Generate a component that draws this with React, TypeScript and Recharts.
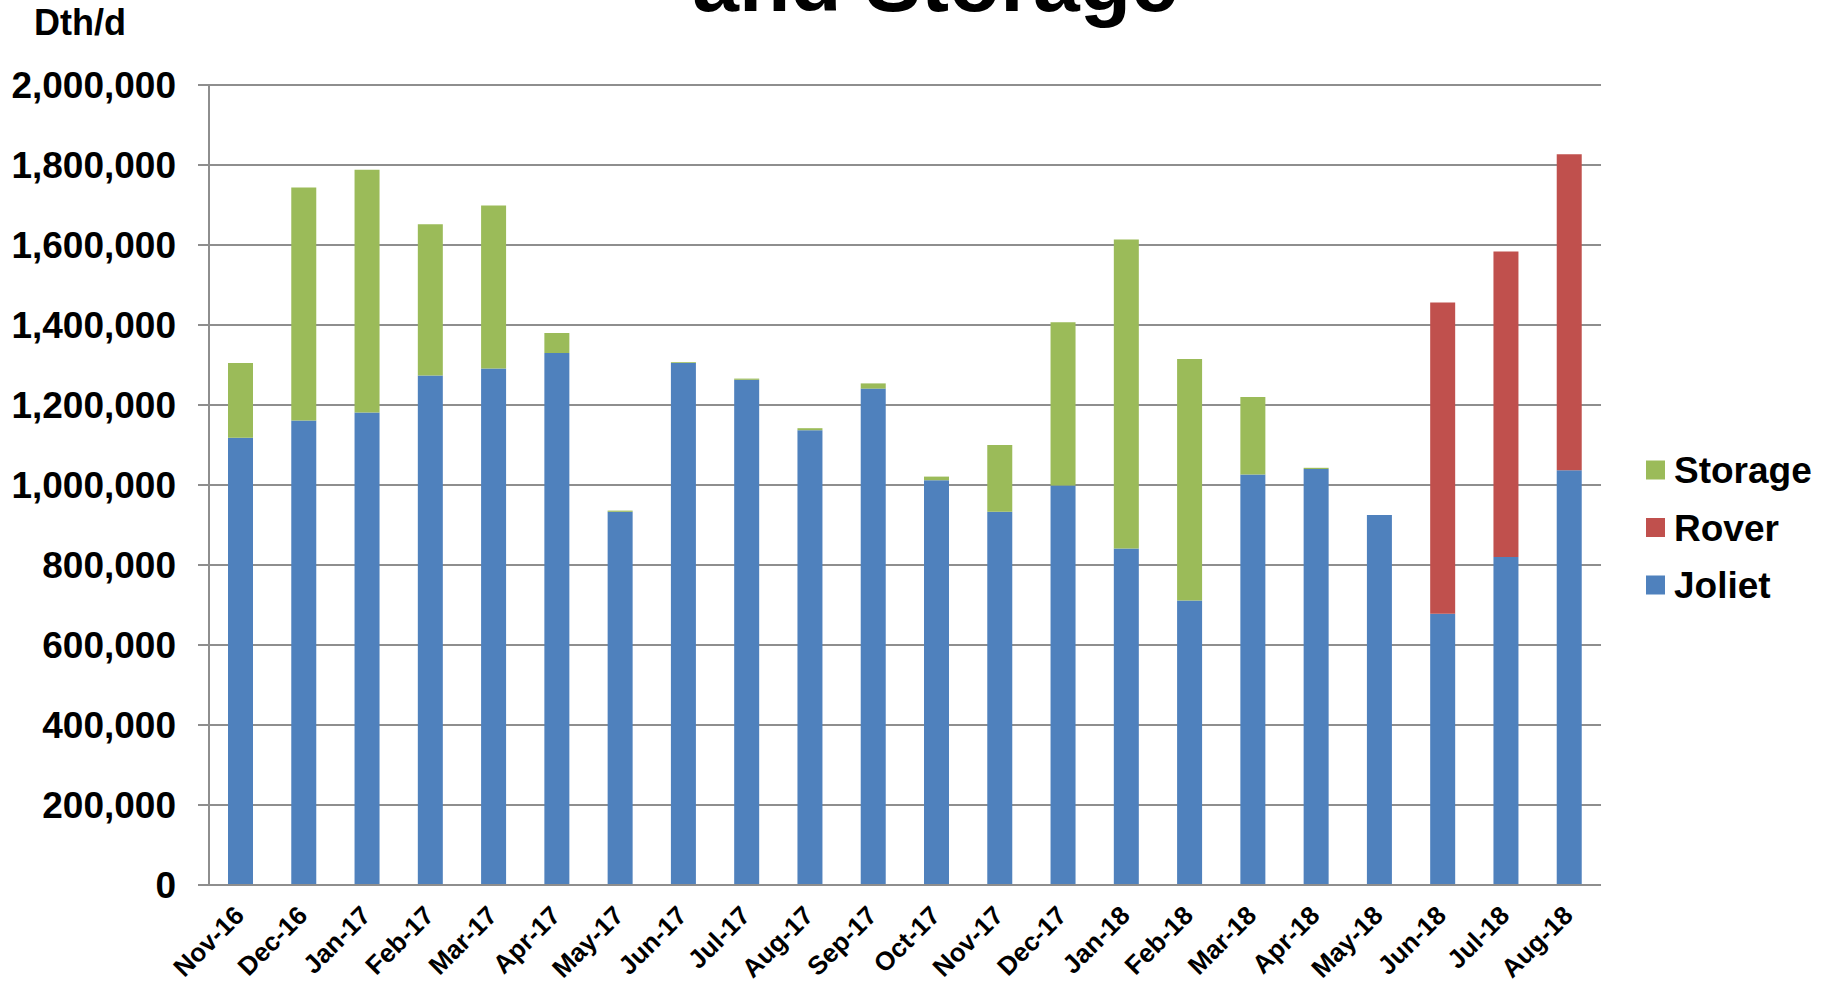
import React from "react";
import { BarChart, Bar, XAxis, YAxis, CartesianGrid } from "recharts";

const months = ["Nov-16","Dec-16","Jan-17","Feb-17","Mar-17","Apr-17","May-17","Jun-17","Jul-17","Aug-17","Sep-17","Oct-17","Nov-17","Dec-17","Jan-18","Feb-18","Mar-18","Apr-18","May-18","Jun-18","Jul-18","Aug-18"];
const joliet = [1118000,1161000,1181000,1274000,1291000,1330000,933000,1305000,1263000,1137000,1241000,1012000,933000,999000,841000,711000,1026000,1040000,925000,678000,820000,1037000];
const rover = [0,0,0,0,0,0,0,0,0,0,0,0,0,0,0,0,0,0,0,778000,764000,790000];
const storage = [187000,583000,607000,378000,408000,50000,3000,2000,3000,5000,13000,9000,167000,408000,773000,604000,194000,3000,0,0,0,0];
const yTicks = [0,200000,400000,600000,800000,1000000,1200000,1400000,1600000,1800000,2000000];
const edgeTicks = Array.from({ length: months.length + 1 }, (_, i) => i);

const series = [
  { key: "joliet", name: "Joliet", color: "#4F81BD" },
  { key: "rover", name: "Rover", color: "#C0504D" },
  { key: "storage", name: "Storage", color: "#9BBB59" },
];
const legendOrder = ["storage", "rover", "joliet"];

const data = months.map((m, i) => ({ month: m, idx: i + 0.5, joliet: joliet[i], rover: rover[i], storage: storage[i] }));

const FONT = "'Liberation Sans', Arial, sans-serif";
const GRID = "#8E8E8E";

const XTick = (props: any) => {
  const { x, y, payload } = props;
  return (
    <g transform={`translate(${x},${y})`}>
      <text
        x={5}
        y={24}
        textAnchor="end"
        transform="rotate(-45 5 24)"
        fontFamily={FONT}
        fontWeight="bold"
        fontSize={26}
        fill="#000"
      >
        {payload.value}
      </text>
    </g>
  );
};

export default function App() {
  return (
    <div style={{ position: "absolute", left: 0, top: 0, width: 1829, height: 985, background: "#fff" }}>
      <BarChart
        width={1829}
        height={985}
        data={data}
        margin={{ top: 85, right: 228, bottom: 0, left: 0 }}
        style={{ position: "absolute", left: 0, top: 0 }}
      >
        <CartesianGrid horizontal vertical={false} stroke={GRID} strokeWidth={2} />
        <XAxis
          xAxisId="edges"
          type="number"
          dataKey="idx"
          domain={[0, months.length]}
          ticks={edgeTicks}
          tick={false}
          tickLine={{ stroke: GRID, strokeWidth: 2 }}
          tickSize={9}
          axisLine={false}
          height={0}
          allowDataOverflow
        />
        <XAxis
          xAxisId="cat"
          dataKey="month"
          interval={0}
          tickLine={false}
          axisLine={{ stroke: GRID, strokeWidth: 2 }}
          tick={<XTick />}
          height={100}
        />
        <YAxis
          domain={[0, 2000000]}
          ticks={yTicks}
          width={209}
          tickSize={11}
          tickMargin={22}
          tickLine={{ stroke: GRID, strokeWidth: 2 }}
          axisLine={{ stroke: GRID, strokeWidth: 2 }}
          tickFormatter={(v: number) => v.toLocaleString("en-US")}
          tick={{ fontFamily: FONT, fontWeight: "bold", fontSize: 37, fill: "#000" }}
          interval={0}
        />
        {series.map((s) => (
          <Bar
            key={s.key}
            dataKey={s.key}
            name={s.name}
            xAxisId="cat"
            stackId="a"
            fill={s.color}
            barSize={25}
            isAnimationActive={false}
          />
        ))}
      </BarChart>
      <svg
        width={1829}
        height={985}
        style={{ position: "absolute", left: 0, top: 0, pointerEvents: "none" }}
      >
        <text x={935} y={11} textAnchor="middle" fontFamily={FONT} fontWeight="bold" fontSize={84} fill="#000">
          and Storage
        </text>
        <text x={34} y={35} fontFamily={FONT} fontWeight="bold" fontSize={36} fill="#000">
          Dth/d
        </text>
        {legendOrder.map((k, i) => {
          const s = series.find((q) => q.key === k)!;
          const cy = 470 + i * 57.5;
          return (
            <g key={k}>
              <rect x={1646} y={cy - 9.5} width={19} height={19} fill={s.color} />
              <text x={1674} y={cy + 13} fontFamily={FONT} fontWeight="bold" fontSize={37} fill="#000">
                {s.name}
              </text>
            </g>
          );
        })}
      </svg>
    </div>
  );
}
